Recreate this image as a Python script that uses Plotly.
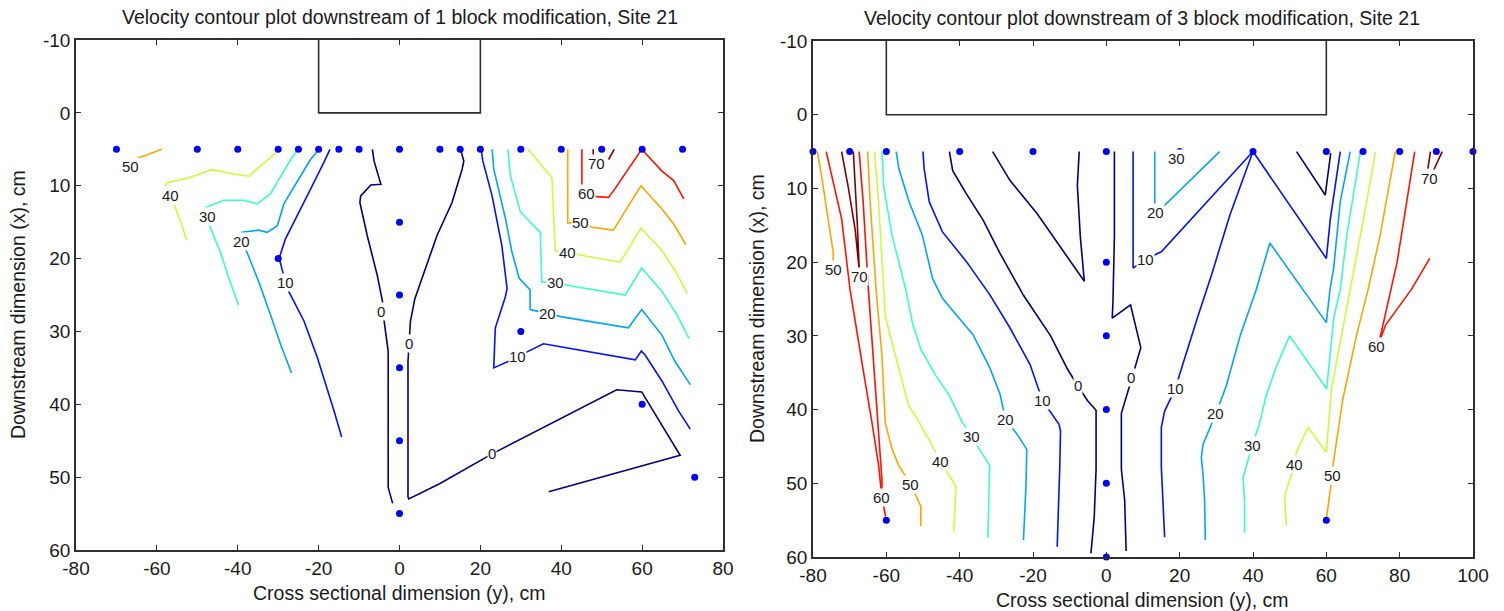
import plotly.graph_objects as go

# Contour levels (cm/s) and their jet-style colours
LEVELS = [0, 10, 20, 30, 40, 50, 60, 70]
LEVEL_COLORS = ["#000080", "#0012ff", "#00a4ff", "#37ffc8",
                "#c8ff37", "#ffa400", "#ff1200", "#800000"]

# Block footprint (downstream extent, cm)
BLOCK_X = [-10, 0]

# ---------------- Site 21, 1 block modification ----------------
ONE_BLOCK_Y = [-20, 20]
ONE_PTS_Y = [-70, -50, -40, -30, -25, -20, -15, -10, 0, 10, 15, 20, 30, 40, 50, 60, 70,
             0, 0, 0, 0, 0, -30, 30, 60, 73]
ONE_PTS_X = [5, 5, 5, 5, 5, 5, 5, 5, 5, 5, 5, 5, 5, 5, 5, 5, 5,
             15, 25, 35, 45, 55, 20, 30, 40, 50]

# contour polylines as (cross-section y, downstream x)
ONE_C0 = [
    [(-6.7, 5), (-6.3, 6.6), (-4.6, 9.8), (-7.1, 9.9), (-9.6, 11.4), (-9.8, 12.3), (-8.0, 16.8),
     (-5.5, 22.3), (-4.2, 25.9), (-3.8, 28.6), (-2.8, 32.7), (-2.8, 41.8), (-2.8, 51.4), (-1.7, 53.6)],
    [(15.1, 5), (15.9, 6.6), (15.5, 7.7), (13.0, 12.3), (9.3, 16.8), (6.4, 21.4), (3.8, 25.5),
     (2.7, 28.6), (2.3, 31.6), (2.1, 34.1), (2.1, 44.1), (2.1, 52.7), (2.3, 53.0), (9.9, 50.9),
     (22.9, 46.8), (38.5, 42.3), (48.4, 39.5), (53.7, 38.0), (59.9, 38.3), (69.4, 47.0), (36.9, 52.0)],
]
ONE_C10 = [
    [(-17.2, 5), (-18.7, 6.8), (-22.4, 10.9), (-25.3, 14.1), (-28.2, 17.3), (-29.8, 20.0),
     (-29.4, 20.7), (-28.2, 23.3), (-27.4, 24.5), (-23.6, 28.6), (-20.3, 33.6), (-16.2, 40.9), (-14.3, 44.5)],
    [(20.2, 5), (20.6, 6.6), (22.9, 11.4), (25.3, 18.2), (26.6, 24.1), (26.2, 25.2), (23.7, 29.5),
     (23.3, 35.0), (27.0, 34.1), (29.3, 33.4), (31.9, 32.7), (35.6, 31.7), (41.8, 32.3), (58.3, 33.9),
     (59.8, 32.7), (60.7, 33.2), (64.9, 36.8), (69.0, 40.9), (71.9, 43.4)],
]
ONE_C20 = [
    [(-19.9, 5), (-22.0, 6.4), (-25.7, 9.8), (-28.6, 12.5), (-30.2, 15.5), (-32.7, 16.4), (-34.8, 16.1),
     (-38.9, 16.4), (-39.2, 16.8), (-39.1, 17.7), (-38.1, 18.6), (-34.8, 23.2), (-31.9, 27.7),
     (-29.4, 31.8), (-26.7, 35.7)],
    [(22.9, 5), (23.3, 7.7), (26.2, 14.5), (27.8, 19.1), (29.6, 22.7), (32.3, 24.3), (32.3, 27.0),
     (36.7, 27.5), (40.2, 28.0), (56.6, 29.5), (59.9, 27.0), (64.9, 30.5), (68.1, 34.1), (71.9, 37.3)],
]
ONE_C30 = [
    [(-25.1, 5), (-26.9, 6.4), (-30.2, 9.5), (-31.9, 11.1), (-35.2, 12.5), (-38.5, 12.0), (-43.5, 12.0),
     (-48.0, 13.0), (-48.4, 13.4), (-47.6, 14.2), (-47.2, 15.2), (-44.3, 19.1), (-42.2, 22.7), (-39.8, 26.4)],
    [(26.8, 5), (27.4, 8.6), (29.9, 13.6), (34.8, 16.4), (35.2, 23.2), (38.7, 23.3), (41.8, 23.7),
     (55.8, 25.0), (59.9, 21.3), (64.9, 24.5), (68.6, 27.7), (71.6, 31.0)],
]
ONE_C40 = [
    [(-29.8, 5), (-31.9, 6.1), (-37.3, 8.7), (-41.0, 8.4), (-46.4, 7.8), (-52.1, 8.9), (-57.5, 9.6),
     (-57.9, 10.2), (-56.7, 11.3), (-55.9, 12.3), (-53.8, 15.5), (-52.6, 17.5)],
    [(31.8, 5), (37.7, 8.9), (38.5, 18.9), (41.6, 19.2), (45.1, 19.6), (54.6, 20.5), (59.7, 15.8),
     (64.9, 18.9), (68.1, 21.6), (71.2, 24.8)],
]
ONE_C50 = [
    [(-58.8, 5), (-63.0, 5.9), (-66.5, 6.5), (-66.6, 7.4), (-65.4, 8.3)],
    [(41.6, 5), (41.6, 15.1), (44.7, 15.1), (47.6, 15.7), (52.9, 16.1), (59.7, 10.0), (64.9, 13.2),
     (68.1, 15.5), (70.8, 18.1)],
]
ONE_C60 = [
    [(45.1, 5), (45.1, 10.9), (46.3, 11.0), (48.8, 11.5), (51.7, 11.6), (53.3, 10.4), (59.9, 5),
     (64.9, 8.0), (67.8, 9.3), (70.3, 11.8)],
]
ONE_C70 = [
    [(47.9, 5), (47.9, 5.9)],
    [(53.1, 5), (51.7, 6.4)],
]
ONE_LABELS = [(50, -66.6, 7.4), (40, -56.7, 11.3), (30, -47.6, 14.2), (20, -39.1, 17.7),
              (10, -28.2, 23.3), (0, -4.5, 27.2), (0, 2.3, 31.6), (0, 22.9, 46.8),
              (10, 29.3, 33.4), (20, 36.7, 27.5), (30, 38.7, 23.3), (40, 41.6, 19.2),
              (50, 44.7, 15.1), (60, 46.3, 11.0), (70, 48.8, 6.9)]

# ---------------- Site 21, 3 block modification ----------------
THREE_BLOCK_Y = [-60, 60]
THREE_PTS_Y = [-80, -70, -60, -40, -20, 0, 20, 40, 60, 70, 80, 90, 100,
               0, 0, 0, 0, 0, -60, 60]
THREE_PTS_X = [5, 5, 5, 5, 5, 5, 5, 5, 5, 5, 5, 5, 5,
               20, 30, 40, 50, 60, 55, 55]

THREE_C0 = [
    [(-42.8, 5), (-41.9, 7.6), (-38.2, 10.7), (-33.6, 14.3), (-29.0, 18.8), (-22.6, 24.5),
     (-15.2, 30.0), (-10.6, 34.5), (-7.9, 36.7), (-5.1, 38.8), (-2.8, 40.1), (-2.8, 48.1),
     (-3.3, 54.6), (-4.2, 59.5)],
    [(-31.0, 5), (-26.3, 8.9), (-18.9, 13.4), (-12.5, 17.9), (-6.0, 22.6), (-7.1, 16.5),
     (-7.9, 9.6), (-7.4, 5)],
    [(2.2, 5), (2.2, 16.5), (1.8, 25.5), (1.6, 27.6), (6.6, 25.8), (8.2, 28.9), (9.4, 31.6),
     (7.1, 35.5), (5.0, 39.0), (4.1, 40.5), (4.1, 48.1), (5.0, 52.3), (5.4, 59.2)],
    [(51.9, 5), (59.7, 10.9), (61.2, 5.2)],
]
THREE_C10 = [
    [(-50.0, 5), (-49.7, 7.3), (-48.3, 11.8), (-44.7, 15.9), (-38.2, 19.9), (-31.8, 24.4),
     (-26.3, 28.9), (-20.8, 33.9), (-17.4, 38.8), (-12.9, 42.0), (-12.5, 42.9), (-12.7, 47.8),
     (-13.4, 58.6)],
    [(7.3, 5), (7.3, 20.8), (10.7, 19.6), (15.0, 18.6), (40.0, 5), (60.0, 19.5), (61.1, 14.1),
     (63.8, 5)],
    [(40.0, 5), (33.7, 13.6), (28.7, 21.7), (25.0, 27.3), (20.0, 35.2), (18.9, 37.1), (15.9, 40.2),
     (15.0, 42.4), (15.0, 47.8), (15.9, 57.3)],
]
THREE_C20 = [
    [(-57.3, 5), (-56.6, 7.3), (-53.8, 11.8), (-50.2, 16.3), (-47.4, 22.2), (-44.7, 24.9),
     (-41.0, 27.1), (-36.4, 29.8), (-31.8, 34.3), (-29.0, 37.9), (-27.5, 41.3), (-24.4, 43.3),
     (-21.7, 45.4), (-21.9, 50.1), (-22.6, 57.7)],
    [(13.2, 5), (13.2, 12.6), (15.9, 12.3), (30.9, 5)],
    [(66.5, 5), (63.8, 11.8), (62.0, 20.8), (61.0, 23.7), (60.0, 28.2), (53.6, 23.7), (44.6, 17.4),
     (40.9, 23.7), (36.5, 30.0), (32.7, 36.8), (30.0, 40.4), (26.4, 44.7), (25.9, 46.5),
     (26.4, 49.0), (26.8, 52.3), (27.0, 57.7)],
]
THREE_C30 = [
    [(-61.2, 5), (-60.7, 9.8), (-58.4, 16.5), (-54.8, 23.5), (-52.9, 28.2), (-50.6, 31.8),
     (-46.5, 35.4), (-42.8, 38.1), (-39.2, 41.8), (-36.7, 43.6), (-34.6, 45.4), (-31.8, 47.6),
     (-32.0, 50.8), (-32.3, 57.4)],
    [(19.3, 5), (20.8, 5.4)],
    [(69.3, 5), (65.6, 16.3), (63.8, 23.7), (62.0, 27.6), (60.1, 37.2), (50.0, 30.0), (46.4, 34.1),
     (43.6, 38.1), (41.8, 41.8), (39.8, 44.9), (37.3, 49.2), (37.7, 52.6), (37.7, 56.7)],
]
THREE_C40 = [
    [(-63.2, 5), (-62.1, 12.0), (-60.7, 23.7), (-60.3, 27.3), (-57.5, 32.7), (-55.7, 36.3),
     (-53.9, 39.5), (-52.0, 40.9), (-47.9, 44.5), (-45.3, 47.0), (-43.0, 48.8), (-41.0, 50.4),
     (-41.5, 55.3), (-41.7, 56.5)],
    [(73.4, 5), (70.2, 14.0), (66.5, 23.7), (61.4, 37.2), (60.0, 45.8), (55.0, 42.4), (51.8, 45.8),
     (51.4, 47.5), (48.6, 51.7), (49.1, 55.8)],
]
THREE_C50 = [
    [(-78.8, 5), (-77.7, 8.2), (-75.9, 14.1), (-74.5, 18.6), (-74.5, 21.0)],
    [(-65.1, 5), (-64.4, 12.0), (-62.8, 23.7), (-61.2, 32.7), (-60.3, 41.8), (-58.4, 45.4),
     (-56.6, 47.6), (-54.8, 49.0), (-53.4, 50.1), (-50.6, 53.1), (-50.6, 55.8)],
    [(78.8, 5), (74.7, 16.3), (71.4, 23.7), (68.2, 30.0), (64.5, 38.6), (61.8, 47.6), (61.6, 49.0),
     (60.0, 54.9)],
]
THREE_C60 = [
    [(-76.4, 5), (-72.2, 14.1), (-69.9, 23.7), (-68.5, 28.2), (-66.2, 35.0), (-63.9, 41.8),
     (-62.1, 47.6), (-61.2, 51.9), (-60.6, 53.5), (-60.2, 54.5)],
    [(-67.4, 5), (-66.3, 12.0), (-64.9, 23.7), (-63.9, 30.5), (-63.0, 37.2), (-62.1, 44.0),
     (-61.2, 49.5), (-61.2, 51.9)],
    [(84.1, 5), (82.0, 11.8), (79.3, 20.0), (75.0, 29.5), (74.3, 31.0), (76.2, 28.5), (83.2, 23.7),
     (88.2, 19.5)],
]
THREE_C70 = [
    [(-72.2, 5), (-70.4, 9.8), (-68.5, 15.6), (-67.6, 19.7), (-67.4, 21.0), (-67.9, 15.0),
     (-68.5, 10.0), (-69.0, 5)],
    [(88.4, 5), (87.7, 7.3)],
    [(91.6, 5), (89.2, 7.6)],
]
THREE_LABELS = [(50, -74.5, 21.0), (70, -67.2, 21.9), (60, -61.3, 51.9), (50, -53.4, 50.1),
                (40, -45.3, 47.0), (30, -36.7, 43.6), (20, -27.5, 41.3), (10, -17.4, 38.8),
                (0, -7.7, 36.8), (0, 6.8, 35.6), (30, 19.2, 6.0), (20, 13.5, 13.3),
                (10, 10.7, 19.6), (10, 18.9, 37.1), (20, 29.9, 40.5), (30, 39.8, 44.9),
                (40, 51.4, 47.5), (50, 61.6, 49.0), (60, 73.7, 31.4), (70, 88.0, 8.6)]

# axis ticks
ONE_XTICKS = [-80, -60, -40, -20, 0, 20, 40, 60, 80]
THREE_XTICKS = [-80, -60, -40, -20, 0, 20, 40, 60, 80, 100]
YTICKS = [-10, 0, 10, 20, 30, 40, 50, 60]

FONT = "Liberation Sans, Arial, sans-serif"
TEXT_COLOR = "#1a1a1a"
FRAME_COLOR = "#2e2e2e"
W, H = 1504, 611

fig = go.Figure()
annotations = []


def add_panel(xa, ya, contours, labels, pts_y, pts_x, block_y):
    for level, color, lines in zip(LEVELS, LEVEL_COLORS, contours):
        ys, xs = [], []
        for line in lines:
            ys += [p[0] for p in line] + [None]
            xs += [p[1] for p in line] + [None]
        fig.add_trace(go.Scatter(x=ys, y=xs, mode="lines", name=str(level),
                                 line=dict(color=color, width=1.6),
                                 xaxis=xa, yaxis=ya, hoverinfo="skip",
                                 showlegend=False, cliponaxis=False))
    # block outline
    fig.add_trace(go.Scatter(x=[block_y[0], block_y[0], block_y[1], block_y[1]],
                             y=[BLOCK_X[0], BLOCK_X[1], BLOCK_X[1], BLOCK_X[0]],
                             mode="lines", line=dict(color=FRAME_COLOR, width=1.6),
                             xaxis=xa, yaxis=ya, showlegend=False, hoverinfo="skip"))
    # measurement stations
    fig.add_trace(go.Scatter(x=pts_y, y=pts_x, mode="markers",
                             marker=dict(color="#0000ff", size=7),
                             xaxis=xa, yaxis=ya, showlegend=False, cliponaxis=False))
    for level, ly, lx in labels:
        annotations.append(dict(x=ly, y=lx, xref=xa, yref=ya, text=str(level),
                                showarrow=False, bgcolor="white", borderpad=0,
                                font=dict(family=FONT, size=15, color=TEXT_COLOR)))


add_panel("x", "y", [ONE_C0, ONE_C10, ONE_C20, ONE_C30, ONE_C40, ONE_C50, ONE_C60, ONE_C70],
          ONE_LABELS, ONE_PTS_Y, ONE_PTS_X, ONE_BLOCK_Y)
add_panel("x2", "y2", [THREE_C0, THREE_C10, THREE_C20, THREE_C30, THREE_C40, THREE_C50,
                       THREE_C60, THREE_C70],
          THREE_LABELS, THREE_PTS_Y, THREE_PTS_X, THREE_BLOCK_Y)


def px(v):
    return v / W


def py(v):
    return 1 - v / H


def text(x, y, s, size=19.5, angle=0):
    annotations.append(dict(x=px(x), y=py(y), xref="paper", yref="paper", text=s,
                            showarrow=False, textangle=angle, xanchor="center",
                            yanchor="middle",
                            font=dict(family=FONT, size=size, color=TEXT_COLOR)))


text(399.5, 17, "Velocity contour plot downstream of 1 block modification, Site 21")
text(1142, 18, "Velocity contour plot downstream of 3 block modification, Site 21")
text(399.5, 593, "Cross sectional dimension (y), cm")
text(1142, 600, "Cross sectional dimension (y), cm")
text(18, 305, "Downstream dimension (x), cm", angle=-90)
text(757, 308, "Downstream dimension (x), cm", angle=-90)

axis_style = dict(ticks="inside", ticklen=5, tickwidth=1.3, tickcolor=FRAME_COLOR,
                  showline=True, linecolor=FRAME_COLOR, linewidth=1.6, mirror="ticks",
                  showgrid=False, zeroline=False, automargin=False,
                  tickfont=dict(family=FONT, size=19, color=TEXT_COLOR))


def ticks(vals):
    return dict(tickmode="array", tickvals=vals, ticktext=[str(v) for v in vals])


fig.update_layout(
    width=W, height=H, margin=dict(l=0, r=0, t=0, b=0),
    paper_bgcolor="white", plot_bgcolor="white",
    xaxis=dict(domain=[px(76), px(723)], anchor="y", range=[-80, 80],
               **ticks(ONE_XTICKS), **axis_style),
    yaxis=dict(domain=[py(550), py(40)], anchor="x", range=[60, -10],
               **ticks(YTICKS), **axis_style),
    xaxis2=dict(domain=[px(813), px(1473)], anchor="y2", range=[-80, 100],
                **ticks(THREE_XTICKS), **axis_style),
    yaxis2=dict(domain=[py(557), py(41)], anchor="x2", range=[60, -10],
                **ticks(YTICKS), **axis_style),
    annotations=annotations,
)

fig.write_html("out.html")
